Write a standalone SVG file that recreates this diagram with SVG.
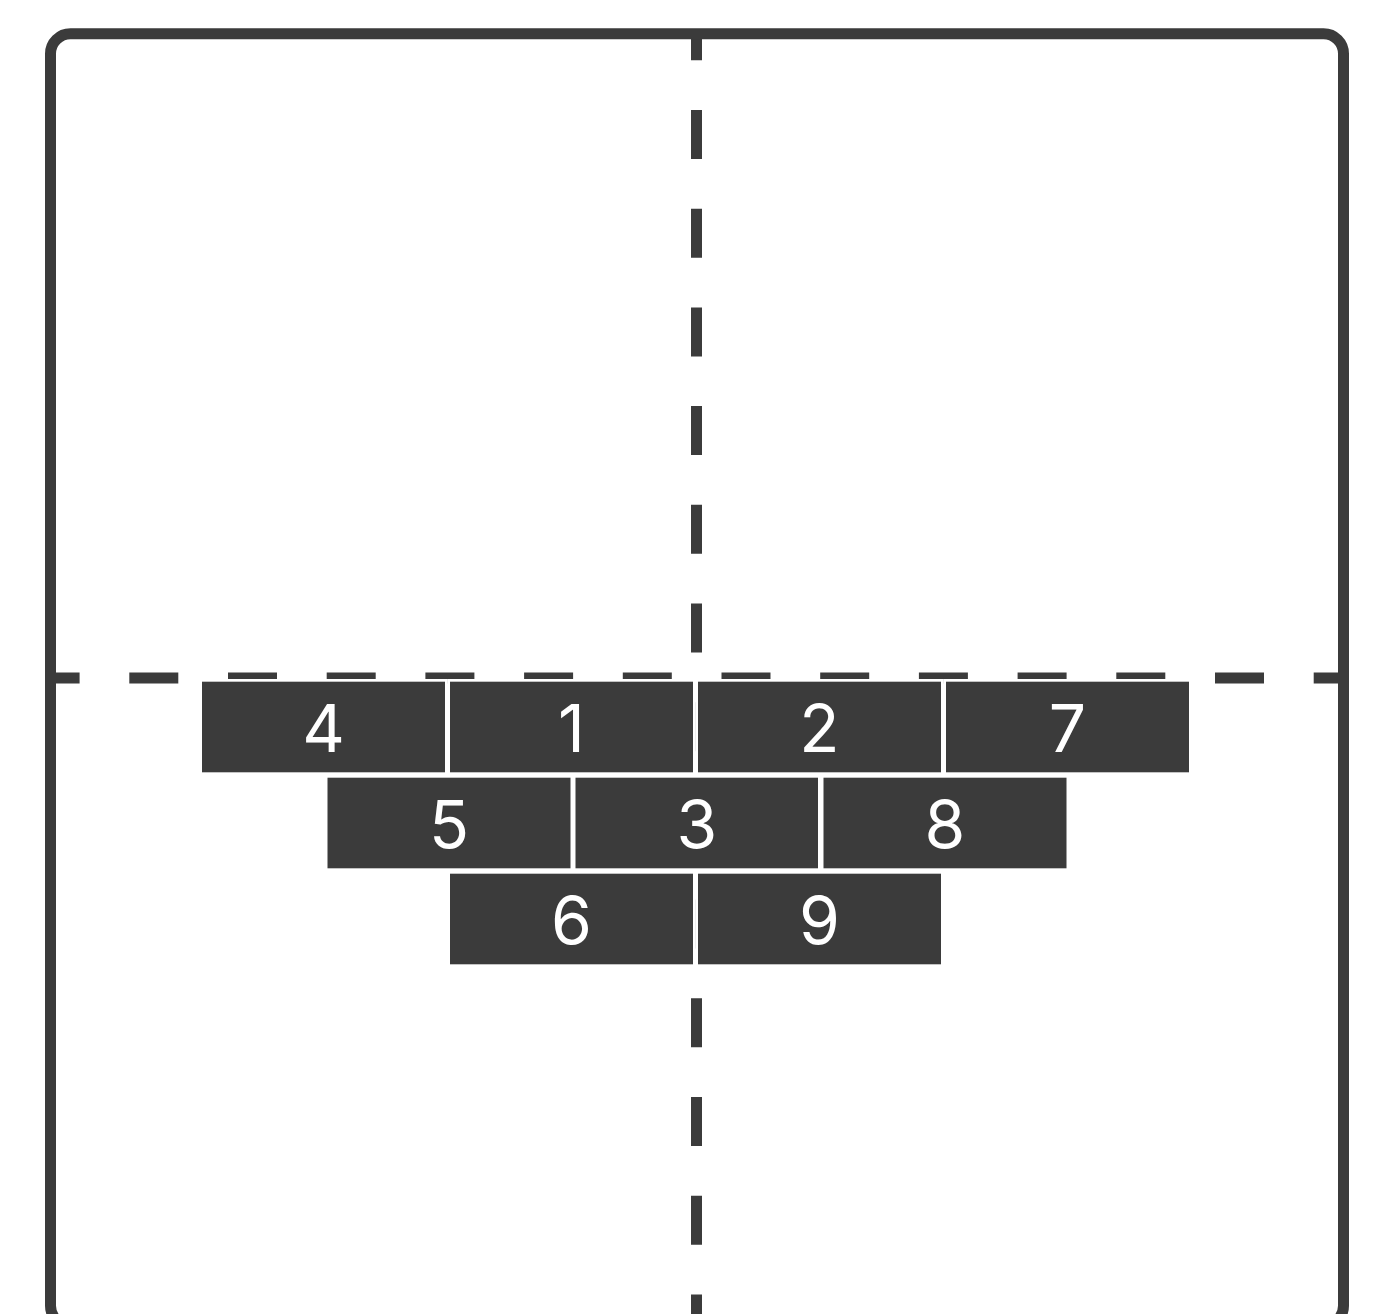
<svg xmlns="http://www.w3.org/2000/svg" width="1382" height="1314" viewBox="0 0 1382 1314">
<style>
.frame{fill:none;stroke:#3b3b3b;stroke-width:11}
.dash{stroke:#3b3b3b;stroke-width:11;stroke-dasharray:49 49.7;fill:none}
.blk rect{fill:#3b3b3b;stroke:#ffffff;stroke-width:5.4;paint-order:stroke}
.blk text{fill:#ffffff;font-family:Inter,"Noto Sans","Liberation Sans",sans-serif;font-size:66px;text-anchor:middle}
</style>
<defs>
<clipPath id="inside"><rect x="50.5" y="33.8" width="1293" height="1292" rx="20"/></clipPath>
</defs>
<rect width="1382" height="1314" fill="#ffffff"/>
<g id="connectors" clip-path="url(#inside)">
<line class="dash" x1="696.5" y1="11.3" x2="696.5" y2="1320"/>
<line class="dash" x1="30.6" y1="678" x2="1345" y2="678"/>
</g>
<rect id="frame" class="frame" x="50.5" y="33.8" width="1293" height="1292" rx="20"/>
<g id="b4" class="blk"><rect x="202" y="681.7" width="243" height="90.6"/><text x="323.5" y="751.5">4</text></g>
<g id="b1" class="blk"><rect x="450" y="681.7" width="243" height="90.6"/><text x="571.5" y="751.5">1</text></g>
<g id="b2" class="blk"><rect x="698" y="681.7" width="243" height="90.6"/><text x="819.5" y="751.5">2</text></g>
<g id="b7" class="blk"><rect x="946" y="681.7" width="243" height="90.6"/><text x="1067.5" y="751.5">7</text></g>
<g id="b5" class="blk"><rect x="327.5" y="777.7" width="243" height="90.6"/><text x="449" y="847.5">5</text></g>
<g id="b3" class="blk"><rect x="575.5" y="777.7" width="242.5" height="90.6"/><text x="697" y="847.5">3</text></g>
<g id="b8" class="blk"><rect x="823.5" y="777.7" width="243" height="90.6"/><text x="945" y="847.5">8</text></g>
<g id="b6" class="blk"><rect x="450" y="873.7" width="243" height="90.6"/><text x="571.5" y="943.5">6</text></g>
<g id="b9" class="blk"><rect x="698" y="873.7" width="243" height="90.6"/><text x="819.5" y="943.5">9</text></g>
</svg>
